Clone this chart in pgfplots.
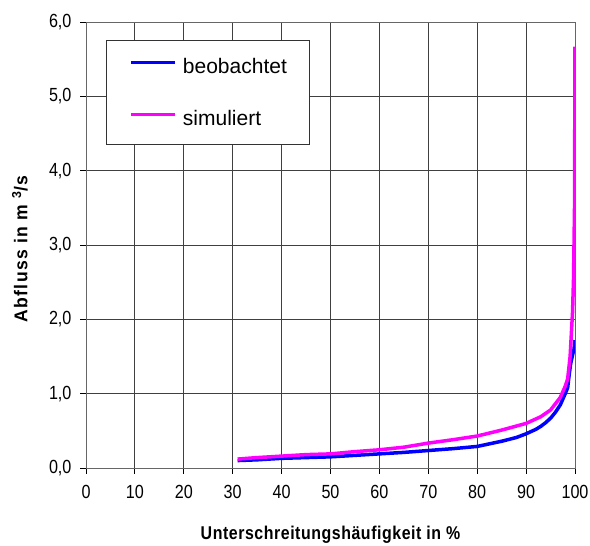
\documentclass[border=0pt]{standalone}
\usepackage{fontspec}
\setmainfont{Liberation Sans}
\newfontfamily\tickfont[FakeStretch=0.85]{Liberation Sans}
\newfontfamily\labfont[FakeStretch=0.86,LetterSpace=3]{Liberation Sans}
\newfontfamily\ylabfont[FakeStretch=0.95,LetterSpace=7]{Liberation Sans}
\usepackage{pgfplots}
\pgfplotsset{compat=1.18}
\definecolor{obsblue}{RGB}{0,0,255}
\definecolor{simmag}{RGB}{255,0,255}
\begin{document}
\begin{tikzpicture}
\begin{axis}[
  at={(0pt,0pt)}, anchor=south west,
  scale only axis, width=489pt, height=446pt,
  xmin=0, xmax=100, ymin=0, ymax=6,
  xtick={0,10,...,100}, ytick={0,1,...,6},
  tick pos=left, tick align=outside, major tick length=6pt,
  tick style={black, line width=0.8pt},
  grid=major, major grid style={black!75, line width=0.8pt},
  axis line style={black!60, line width=0.9pt},
  /pgf/number format/assume math mode=true,
  yticklabel={\pgfmathprintnumber[fixed, fixed zerofill, precision=1, use comma]{\tick}},
  ticklabel style={font=\tickfont\fontsize{19}{19}\selectfont},
  xticklabel style={yshift=-8pt},
  yticklabel style={xshift=-5pt},
  xlabel={\bfseries Unterschreitungsh\"aufigkeit in \%},
  ylabel={\bfseries Abfluss in m \textsuperscript{3}/s},
  xlabel style={font=\labfont\fontsize{18.5}{18.5}\selectfont, at={([yshift=-67pt]axis description cs:0.5,0)}, anchor=center},
  ylabel style={font=\ylabfont\fontsize{18.5}{18.5}\selectfont, at={([xshift=-66pt,yshift=-4pt]axis description cs:0,0.5)}, anchor=center},
  legend style={at={(axis cs:4.1,5.76)}, anchor=north west, draw=black!80, fill=white, line width=0.8pt,
    inner xsep=23pt, inner ysep=18pt, row sep=35pt, column sep=6pt,
    font=\fontsize{21}{21}\selectfont, nodes={inner sep=0pt}},
  legend cell align=left,
  legend image code/.code={\draw[#1, line width=3.5pt] (0pt,4pt) -- (44pt,4pt);},
]
\addplot[obsblue, line width=3.5pt] coordinates {
(31,0.10) (35,0.11) (40,0.13) (45,0.14) (50,0.15) (55,0.17) (60,0.19) (65,0.21)
(70,0.235) (75,0.26) (80,0.29) (85,0.36) (88,0.41) (90,0.46) (92,0.52) (93,0.56)
(94,0.61) (95,0.67) (96,0.75) (97,0.85) (98,1.0) (98.5,1.08) (98.8,1.25) (99.1,1.40)
(99.5,1.52) (99.8,1.6) (100,1.72)};
\addlegendentry{beobachtet}
\addplot[simmag, line width=3.5pt] coordinates {
(31,0.12) (35,0.14) (40,0.16) (45,0.18) (50,0.19) (55,0.22) (60,0.245) (65,0.28)
(70,0.335) (75,0.38) (80,0.43) (85,0.51) (90,0.60) (93,0.69) (95,0.78) (97,0.95)
(98,1.10) (98.5,1.20) (99,1.50) (99.5,2.1) (99.7,2.55) (99.9,3.5) (100,5.67)};
\addlegendentry{simuliert}
\end{axis}
\pgfresetboundingbox
\useasboundingbox (-86pt,-78pt) rectangle (504pt,468pt);
\end{tikzpicture}
\end{document}
